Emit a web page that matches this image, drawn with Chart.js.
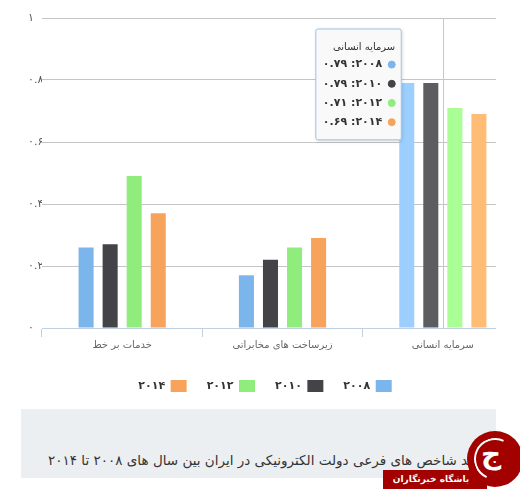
<!DOCTYPE html>
<html lang="fa">
<head>
<meta charset="utf-8">
<script src="https://cdn.jsdelivr.net/npm/chart.js@4/dist/chart.umd.min.js"></script>
<style>
  body { margin: 0; background: #fff; font-family: "DejaVu Sans", sans-serif; }
  #wrap { position: absolute; left: 0; top: 0; width: 496px; height: 402px; overflow: hidden; }
  #box { position: relative; width: 530px; height: 402px; }
  #caption {
    position: absolute; left: 21px; top: 409px; width: 475px; height: 69px;
    background: #eceff1; overflow: hidden;
  }
  #caption span {
    position: absolute; right: 11px; top: 43px; white-space: nowrap;
    direction: rtl; font-size: 13.5px; color: #333;
  }
  #ribbon {
    position: absolute; left: 383px; top: 470px; width: 104px; height: 19px;
    background: #a30000; color: #fff; font-size: 9px; font-weight: bold;
    line-height: 19px; text-align: center; direction: rtl; padding-right: 8px; box-sizing: border-box;
  }
  #badge {
    position: absolute; left: 467px; top: 431px; width: 56px; height: 56px;
    border-radius: 50%; background: #a30000;
  }
  #badge div {
    position: absolute; left: 7px; top: 7px; width: 38px; height: 38px; border-radius: 50%;
    border: 2px solid #fff; border-right-color: transparent; border-bottom-color: transparent;
    transform: rotate(-20deg);
  }
  #badge span {
    position: absolute; left: 14px; top: 6px; color: #fff; font-size: 28px; font-weight: bold;
  }
</style>
</head>
<body>
<div id="wrap"><div id="box"><canvas id="chart"></canvas></div></div>
<div id="caption"><span>روند شاخص های فرعی دولت الکترونیکی در ایران بین سال های ۲۰۰۸ تا ۲۰۱۴</span></div>
<div id="ribbon">باشگاه خبرنگاران</div>
<div id="badge"><div></div><span>ج</span></div>
<script>
// داده ها
const categories = ['خدمات بر خط', 'زیرساخت های مخابراتی', 'سرمایه انسانی'];
const years = ['2008', '2010', '2012', '2014'];
const values2008 = [0.26, 0.17, 0.79];
const values2010 = [0.27, 0.22, 0.79];
const values2012 = [0.49, 0.26, 0.71];
const values2014 = [0.37, 0.29, 0.69];
const yTicks = [0, 0.2, 0.4, 0.6, 0.8, 1];

const colors = ['#7cb5ec', '#434348', '#90ed7d', '#f7a35c'];
const hoverColors = ['#9ccfff', '#5c5c61', '#a9ff96', '#ffbc75'];

// تبدیل ارقام به فارسی
function toFa(s) {
  return String(s).replace(/\d/g, d => '۰۱۲۳۴۵۶۷۸۹'[d]);
}

Chart.defaults.font.family = '"DejaVu Sans", sans-serif';

Chart.Tooltip.positioners.besideGroup = function (elements) {
  if (!elements.length) return false;
  const el = elements[0].element;
  return { x: el.x - el.width / 2, y: this.chart.chartArea.top + 11 };
};

const crosshair = {
  id: 'crosshair',
  beforeDatasetsDraw(chart) {
    const x = chart.scales.x.getPixelForValue(2);
    const ctx = chart.ctx;
    ctx.save();
    ctx.strokeStyle = '#c8c8c8';
    ctx.lineWidth = 1;
    ctx.beginPath();
    ctx.moveTo(Math.round(x) + 0.5, chart.chartArea.top);
    ctx.lineTo(Math.round(x) + 0.5, chart.chartArea.bottom);
    ctx.stroke();
    ctx.restore();
  }
};

const tooltipShadow = {
  id: 'tooltipShadow',
  beforeTooltipDraw(chart, args) {
    const t = args.tooltip;
    if (!t.opacity) return;
    const ctx = chart.ctx;
    ctx.save();
    ctx.shadowColor = 'rgba(0,0,0,0.18)';
    ctx.shadowBlur = 4;
    ctx.shadowOffsetX = 1;
    ctx.shadowOffsetY = 1;
    ctx.fillStyle = 'rgba(249,249,249,1)';
    ctx.fillRect(t.x, t.y, t.width, t.height);
    ctx.restore();
  }
};

// لژند وسط کل بوم
const centerLegend = {
  id: 'centerLegend',
  afterLayout(chart) {
    const lg = chart.legend;
    const shift = chart.width / 2 - (lg.left + lg.right) / 2;
    lg.left += shift;
    lg.right += shift;
  }
};

const seriesValues = [values2008, values2010, values2012, values2014];

const ctx = document.getElementById('chart').getContext('2d');
const chart = new Chart(ctx, {
  type: 'bar',
  data: {
    labels: categories,
    datasets: years.map((y, i) => ({
      label: toFa(y),
      data: seriesValues[i],
      backgroundColor: colors[i],
      hoverBackgroundColor: hoverColors[i],
      borderWidth: 0,
      hoverBorderWidth: 0,
      barPercentage: 0.625,
      categoryPercentage: 0.6
    }))
  },
  options: {
    responsive: true,
    maintainAspectRatio: false,
    animation: false,
    events: [],
    layout: { padding: { left: 28, right: 7, top: 18, bottom: 0 } },
    scales: {
      x: {
        grid: { offset: true, drawOnChartArea: false, tickLength: 9, tickColor: '#c0d0e0' },
        border: { color: '#c0d0e0' },
        ticks: { color: '#666', font: { size: 10 }, padding: 2 },
        afterFit(scale) { scale.height = 32; }
      },
      y: {
        min: 0,
        max: 1,
        afterBuildTicks(scale) { scale.ticks = yTicks.map(v => ({ value: v })); },
        grid: { color: '#c4c4c4', drawTicks: false },
        border: { display: false },
        ticks: {
          color: '#555',
          font: { size: 11 },
          crossAlign: 'far',
          callback: v => toFa(Math.round(v * 10) / 10)
        },
        afterFit(scale) { scale.width = 14; }
      }
    },
    plugins: {
      legend: {
        position: 'bottom',
        rtl: true,
        textDirection: 'rtl',
        labels: {
          boxWidth: 16, boxHeight: 12, padding: 20,
          color: '#333', font: { size: 11, weight: 'bold' }
        }
      },
      tooltip: {
        position: 'besideGroup',
        mode: 'index',
        xAlign: 'right',
        yAlign: 'top',
        caretSize: 0,
        caretPadding: 0,
        cornerRadius: 2,
        rtl: true,
        textDirection: 'rtl',
        backgroundColor: 'rgba(249,249,249,0.96)',
        borderColor: '#9cc4ec',
        borderWidth: 1,
        titleColor: '#333',
        bodyColor: '#333',
        titleFont: { size: 10, weight: 'normal', lineHeight: 1.2 },
        bodyFont: { size: 11, weight: 'bold', lineHeight: 1.2 },
        titleMarginBottom: 5,
        bodySpacing: 6,
        padding: { top: 12, bottom: 11, left: 6, right: 7 },
        usePointStyle: true,
        boxWidth: 7,
        boxHeight: 7,
        boxPadding: 4,
        multiKeyBackground: 'rgba(0,0,0,0)',
        callbacks: {
          label: c => c.dataset.label + ': ' + toFa(c.parsed.y.toFixed(2)),
          labelColor: c => ({ borderColor: colors[c.datasetIndex], backgroundColor: colors[c.datasetIndex], borderWidth: 0 }),
          labelPointStyle: () => ({ pointStyle: 'circle', rotation: 0 })
        }
      }
    }
  },
  plugins: [crosshair, tooltipShadow, centerLegend]
});

// حالت نمایش تولتیپ روی گروه سرمایه انسانی
const active = years.map((y, i) => ({ datasetIndex: i, index: 2 }));
chart.setActiveElements(active);
chart.tooltip.setActiveElements(active, { x: chart.scales.x.getPixelForValue(2), y: chart.chartArea.top });
chart.update();
</script>
</body>
</html>
